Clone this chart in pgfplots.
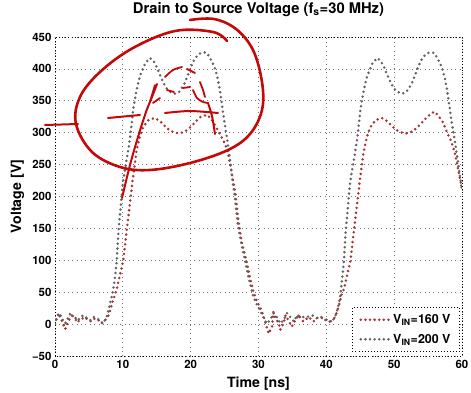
\documentclass[border=0pt]{standalone}
\usepackage{fontspec}
\setmainfont{TeX Gyre Heros}
\usepackage{pgfplots}
\pgfplotsset{compat=1.18}
\definecolor{vred}{RGB}{166,50,50}
\definecolor{vgray}{RGB}{98,98,98}
\definecolor{pen}{RGB}{196,8,8}
\begin{document}
\begin{tikzpicture}
\begin{axis}[
  scale only axis, width=407bp, height=319bp,
  xmin=0, xmax=60, ymin=-50, ymax=450,
  xtick={0,10,20,30,40,50,60},
  ytick={-50,0,50,100,150,200,250,300,350,400,450},
  yticklabels={−50,0,50,100,150,200,250,300,350,400,450},
  xticklabels={0,10,20,30,40,50,60},
  major tick length=0pt,
  grid=major,
  major grid style={color=black!55, line width=0.75bp, dash pattern=on 0.75bp off 3.6bp},
  axis line style={black, line width=0.85bp, dash pattern=on 0.85bp off 2.2bp},
  tick label style={font=\bfseries\fontsize{11.5}{13}\selectfont},
  xticklabel style={yshift=-1bp},
  yticklabel style={xshift=0bp},
  title={Drain to Source Voltage (f\textsubscript{s}=30 MHz)},
  title style={font=\bfseries\fontsize{14.8}{17}\selectfont, at={(axis description cs:0.5,1.0564)}, anchor=base},
  xlabel={Time [ns]},
  xlabel style={font=\bfseries\fontsize{14.2}{16}\selectfont, at={(axis description cs:0.5,-0.1003)}, anchor=base},
  ylabel={Voltage [V]},
  ylabel style={font=\bfseries\fontsize{14.2}{16}\selectfont, at={(axis description cs:-0.0835,0.5)}, anchor=base, rotate=0},
  legend style={at={(rel axis cs:0.995,0.0125)}, anchor=south east, draw=black, line width=0.85bp, dash pattern=on 0.85bp off 2.2bp, fill=white, font=\bfseries\fontsize{12.5}{14}\selectfont, inner xsep=7bp, inner ysep=5bp, row sep=5bp},
  legend cell align=left,
  legend image code/.code={\draw[#1, solid, line width=2.8bp, dash pattern=on 0bp off 4.6bp, line cap=round] (0bp,0bp) -- (29bp,0bp);},
  every axis plot/.append style={line width=2.8bp, dash pattern=on 0bp off 4.9bp, line cap=round, line join=round},
]
\addplot[vred] table {
0 0
0.5 17
1.0 5
1.5 -8
2.0 5
2.5 14
3.0 10
3.4 4
3.9 8
4.4 11
4.9 6
5.4 4
5.9 9
6.4 6
6.9 1
7.4 6
7.9 14
8.2 24
8.4 32
8.9 48
9.1 55
9.6 78
10.07 100
10.57 147
11.0 185
11.45 226
12.0 270
12.5 294
13.0 309
13.8 320
14.7 323
15.5 318
16.3 309
17.0 303
17.7 300
18.4 299
19.2 302
20.0 309
20.7 317
21.5 325
22.4 328
23.0 322
23.7 310
24.3 298
24.9 286
25.4 273
25.8 252
26.2 228
26.6 205
27.0 165
27.5 130
28.2 100
28.7 75
29.2 53
29.7 37
30.2 27
30.7 14
31.2 -4
31.5 -15
32.0 -4
32.2 19
32.5 9
33.0 1
33.2 -9
33.7 1
34.0 14
34.4 6
34.9 -4
35.4 6
35.9 14
36.6 4
37.4 11
38.1 4
38.8 11
39.6 9
40.6 4
41.3 11
41.8 27
42.3 48
42.6 55
43.1 78
43.57 100
44.07 147
44.5 185
44.95 226
45.5 270
46.0 294
46.5 309
47.3 320
48.2 323
49.0 318
49.8 309
50.5 303
51.2 300
51.9 299
52.7 302
53.5 309
54.2 317
55.0 326
55.9 333
56.5 327
57.2 316
57.8 300
58.4 287
58.9 270
59.3 250
59.7 228
60 212
};
\addlegendentry{V\textsubscript{IN}=160 V}
\addplot[vgray] table {
0 0
0.25 11
0.75 17
1 9
1.5 1
1.75 6
2.25 17
2.75 11
3.25 4
3.75 11
4.25 14
4.75 9
5.25 6
5.75 11
6.25 9
6.75 4
7.1 1
7.6 11
7.9 22
8.1 32
8.4 45
8.6 55
8.9 78
9.1 100
9.35 145
9.6 174
10.0 222
10.6 260
11.05 290
11.55 338
12.0 366
12.5 388
13.3 409
14.0 417
14.5 413
15.0 403
15.5 390
16.0 378
16.5 369
17.0 364
17.7 361
18.3 364
19.0 375
19.5 388
20.0 402
20.5 414
21.0 421
21.5 425
22.0 426
22.4 425
22.8 418
23.2 410
23.6 400
24.0 384
24.3 367
24.6 345
25.0 315
25.4 288
25.8 258
26.2 222
26.5 199
27.0 152
27.5 125
28.0 100
28.5 75
29.0 53
29.2 45
29.7 32
30.2 22
30.7 11
31.2 1
31.7 6
32.2 17
32.7 11
33.2 1
33.7 6
34.2 17
34.7 11
35.2 4
35.7 14
36.4 11
37.1 11
37.9 14
38.6 9
39.3 11
40.1 4
40.8 4
41.3 11
41.6 22
41.9 35
42.1 48
42.4 78
42.6 100
42.85 145
43.1 174
43.5 222
44.1 260
44.55 290
45.05 338
45.5 366
46.0 388
46.8 409
47.5 417
48.0 413
48.5 403
49.0 390
49.5 378
50.0 369
50.5 364
51.2 361
51.8 364
52.5 375
53.0 388
53.5 402
54.0 414
54.5 421
55.0 425
55.5 426
55.9 425
56.3 418
56.7 410
57.1 400
57.5 384
57.8 367
58.1 345
58.5 315
58.9 290
59.3 262
59.7 232
60 210
};
\addlegendentry{V\textsubscript{IN}=200 V}
\coordinate (O) at (rel axis cs:0,1);
\end{axis}
% hand-drawn red annotation (image pixel coordinates)
\begin{scope}[shift={(O)}, xshift=-55bp, yshift=37bp, x=1bp, y=-1bp, pen, line cap=round, line join=round]
\draw[line width=2.6bp] plot[smooth, tension=0.6] coordinates {(190,20) (214,19) (236,29) (253,50) (262,82) (262,110) (250,134) (228,150) (190,163) (150,170) (120,167) (92,152) (76,124) (80,97) (100,72) (133,48) (175,31) (213,32) (227,41)};
\draw[line width=2bp] (45,125) -- (78,124);
\draw[line width=2bp] plot[smooth] coordinates {(122,198) (130,165) (138,137) (146,112) (152,97) (157,84)};
\draw[line width=2bp] (108,118) -- (140,115);
\draw[line width=2bp] plot[smooth] coordinates {(165,113) (190,111) (218,113)};
\draw[line width=2bp] plot[smooth] coordinates {(208,103) (212,116) (215,134)};
\draw[line width=1.8bp] (153,103) -- (160,98);
\draw[line width=1.8bp] plot[smooth] coordinates {(165,77) (173,70) (182,67)};
\draw[line width=1.8bp] (187,69) -- (195,73);
\draw[line width=1.8bp] plot[smooth] coordinates {(200,82) (203,90) (205,97)};
\draw[line width=1.8bp] (167,90) -- (174,92);
\draw[line width=1.8bp] (183,88) -- (190,87);
\draw[line width=1.8bp] plot[smooth] coordinates {(193,90) (197,98) (203,102) (208,103)};
\draw[line width=1.8bp] plot[smooth] coordinates {(155,85) (152,95) (150,102)};
\end{scope}
\pgfresetboundingbox
\path (O) ++(-55bp,37bp) rectangle ++(471bp,-393bp);
\end{tikzpicture}
\end{document}
